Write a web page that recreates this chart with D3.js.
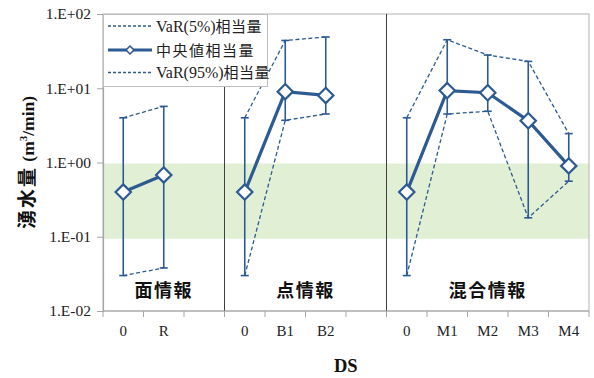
<!DOCTYPE html>
<html>
<head>
<meta charset="utf-8">
<script src="https://cdn.jsdelivr.net/npm/d3@7"></script>
<style>
  html, body { margin: 0; padding: 0; background: #fff; }
  svg { display: block; }
</style>
</head>
<body>
<svg id="chart" width="594" height="378"></svg>
<script>
// Category slots along the x axis (spacer slots sit between groups)
const slots = ["g1-0", "g1-R", "g1-sp", "g2-0", "g2-B1", "g2-B2", "g2-sp", "g3-0", "g3-M1", "g3-M2", "g3-M3", "g3-M4"];
const slotLabels = ["0", "R", "", "0", "B1", "B2", "", "0", "M1", "M2", "M3", "M4"];

// Groups of data sets
const groupNames = ["面情報", "点情報", "混合情報"];
const groupSlots = [
  ["g1-0", "g1-R"],
  ["g2-0", "g2-B1", "g2-B2"],
  ["g3-0", "g3-M1", "g3-M2", "g3-M3", "g3-M4"]
];

// Inflow (m3/min) per group, in slot order
const medianValues = [[0.40, 0.68], [0.40, 9.0, 8.0], [0.40, 9.3, 8.7, 3.65, 0.90]];
const var5Values   = [[4.0, 5.7], [4.0, 44, 49], [4.0, 45, 28, 23, 2.45]];
const var95Values  = [[0.03, 0.038], [0.03, 3.7, 4.5], [0.03, 4.5, 4.9, 0.18, 0.56]];

const yTicks = [1e-2, 1e-1, 1e0, 1e1, 1e2];
const yTickLabels = ["1.E-02", "1.E-01", "1.E+00", "1.E+01", "1.E+02"];
const bandRange = [0.1, 1.0];

const legendLabels = ["VaR(5%)相当量", "中央値相当量", "VaR(95%)相当量"];

const blue = "#2D5A92";
const serif = "'Liberation Serif', 'DejaVu Serif', serif";
const gothic = "'Noto Sans CJK JP', 'Noto Sans', sans-serif";

const svg = d3.select("#chart");
const margin = { left: 103, right: 5, top: 14, bottom: 67 };
const W = 594, H = 378;
const plotW = W - margin.left - margin.right;
const plotH = H - margin.top - margin.bottom;

const g = svg.append("g").attr("transform", `translate(${margin.left},${margin.top})`);

const x = d3.scaleBand().domain(slots).range([0, plotW]).padding(0);
const y = d3.scaleLog().domain([1e-2, 1e2]).range([plotH, 0]);
const cx = s => x(s) + x.bandwidth() / 2;

// Green reference band
g.append("rect")
  .attr("x", 0).attr("width", plotW)
  .attr("y", y(bandRange[1]) + 1)
  .attr("height", y(bandRange[0]) - y(bandRange[1]) + 1)
  .attr("fill", "#E1EFD5");

// Plot frame
g.append("rect")
  .attr("x", 0).attr("y", 0).attr("width", plotW).attr("height", plotH)
  .attr("fill", "none").attr("stroke", "#BFBFBF").attr("stroke-width", 1.2);

// Group separators
const sepSlots = ["g2-0", "g3-0"];
g.selectAll("line.sep").data(sepSlots).join("line")
  .attr("class", "sep")
  .attr("x1", d => x(d)).attr("x2", d => x(d))
  .attr("y1", 0).attr("y2", plotH)
  .attr("stroke", "#404040").attr("stroke-width", 1);

// Y axis
const yAxis = d3.axisLeft(y).tickValues(yTicks)
  .tickFormat((d, i) => yTickLabels[i]).tickSize(6).tickPadding(6);
const ya = g.append("g").call(yAxis);
ya.select(".domain").attr("stroke", "#A6A6A6").attr("stroke-width", 1.2);
ya.selectAll(".tick line").attr("stroke", "#A6A6A6");
ya.selectAll("text").attr("font-family", serif).attr("font-size", 15.5).attr("fill", "#222");

// X axis with ticks on slot boundaries
const xa = g.append("g").attr("transform", `translate(0,${plotH})`);
xa.append("line").attr("x1", 0).attr("x2", plotW).attr("stroke", "#A6A6A6").attr("stroke-width", 1.2);
const bounds = slots.map(s => x(s)).concat([plotW]);
xa.selectAll("line.tk").data(bounds).join("line")
  .attr("class", "tk")
  .attr("x1", d => d).attr("x2", d => d).attr("y1", 0).attr("y2", 6)
  .attr("stroke", "#A6A6A6");
xa.selectAll("text").data(slots).join("text")
  .attr("x", d => cx(d)).attr("y", 25)
  .attr("text-anchor", "middle")
  .attr("font-family", serif).attr("font-size", 15).attr("fill", "#222")
  .text((d, i) => slotLabels[i]);

// Axis titles
svg.append("text")
  .attr("x", margin.left + x("g2-B2") + x.bandwidth() / 2 + 20)
  .attr("y", 372)
  .attr("text-anchor", "middle")
  .attr("font-family", serif).attr("font-weight", "bold").attr("font-size", 18.5)
  .attr("fill", "#111")
  .text("DS");

const yt = svg.append("text")
  .attr("transform", `translate(34,${margin.top + plotH / 2}) rotate(-90)`)
  .attr("text-anchor", "middle")
  .attr("font-weight", "bold").attr("fill", "#111");
yt.append("tspan").attr("font-family", gothic).attr("font-size", 19).attr("letter-spacing", 2).text("湧水量");
yt.append("tspan").attr("font-family", serif).attr("font-size", 17.5).text(" (m");
yt.append("tspan").attr("font-family", serif).attr("font-size", 11).attr("dy", -7).text("3");
yt.append("tspan").attr("font-family", serif).attr("font-size", 17.5).attr("dy", 7).text("/min)");

// Group name labels, centred in each group's span
g.selectAll("text.grp").data(groupNames).join("text")
  .attr("class", "grp")
  .attr("x", (d, i) => {
    const start = x(groupSlots[i][0]);
    const end = i < 2 ? x(groupSlots[i + 1][0]) : plotW;
    return (start + end) / 2;
  })
  .attr("y", plotH - 14)
  .attr("text-anchor", "middle")
  .attr("font-family", gothic).attr("font-weight", "bold").attr("font-size", 18)
  .attr("letter-spacing", 1.5).attr("fill", "#111")
  .text(d => d);

// Series per group
const line = d3.line().x(d => cx(d.s)).y(d => y(d.v));
groupSlots.forEach((gs, gi) => {
  const med = gs.map((s, i) => ({ s, v: medianValues[gi][i] }));
  const up = gs.map((s, i) => ({ s, v: var5Values[gi][i] }));
  const lo = gs.map((s, i) => ({ s, v: var95Values[gi][i] }));
  const grp = g.append("g");

  // Dashed VaR envelopes
  [up, lo].forEach(d => {
    grp.append("path").datum(d).attr("d", line)
      .attr("fill", "none").attr("stroke", blue).attr("stroke-width", 1.3)
      .attr("stroke-dasharray", "4,2.5");
  });

  // Error bars between VaR(95%) and VaR(5%)
  gs.forEach((s, i) => {
    const xx = cx(s);
    grp.append("line")
      .attr("x1", xx).attr("x2", xx)
      .attr("y1", y(lo[i].v)).attr("y2", y(up[i].v))
      .attr("stroke", blue).attr("stroke-width", 1.6);
    [lo[i].v, up[i].v].forEach(v => {
      grp.append("line")
        .attr("x1", xx - 4).attr("x2", xx + 4)
        .attr("y1", y(v)).attr("y2", y(v))
        .attr("stroke", blue).attr("stroke-width", 1.6);
    });
  });

  // Median line and diamond markers
  grp.append("path").datum(med).attr("d", line)
    .attr("fill", "none").attr("stroke", blue).attr("stroke-width", 3.2);
  grp.selectAll("path.mk").data(med).join("path")
    .attr("class", "mk")
    .attr("d", d3.symbol().type(d3.symbolDiamond2).size(150))
    .attr("transform", d => `translate(${cx(d.s)},${y(d.v)})`)
    .attr("fill", "#fff").attr("stroke", blue).attr("stroke-width", 2.2);
});

// Legend
const lg = g.append("g");
lg.append("rect")
  .attr("x", 0.5).attr("y", 0.5).attr("width", 164).attr("height", 72)
  .attr("fill", "#fff").attr("stroke", "#BFBFBF").attr("stroke-width", 1);
const rowsY = [12, 36, 58.5];
legendLabels.forEach((lab, i) => {
  const yy = rowsY[i];
  const l = lg.append("line").attr("x1", 5).attr("x2", 49).attr("y1", yy).attr("y2", yy)
    .attr("stroke", blue);
  if (i === 1) {
    l.attr("stroke-width", 3.2);
    lg.append("path").attr("d", d3.symbol().type(d3.symbolDiamond2).size(40))
      .attr("transform", `translate(27,${yy})`)
      .attr("fill", "#fff").attr("stroke", blue).attr("stroke-width", 1.6);
  } else {
    l.attr("stroke-width", 1.3).attr("stroke-dasharray", "3,2");
  }
  const t = lg.append("text").attr("x", 53).attr("y", yy + 5.5)
    .attr("fill", "#222");
  const m = lab.match(/^(VaR\(\d+%\))(.*)$/);
  if (m) {
    t.append("tspan").attr("font-family", serif).attr("font-size", 16).text(m[1]);
    t.append("tspan").attr("font-family", gothic).attr("font-size", 15).attr("letter-spacing", 0.5).text(m[2]);
  } else {
    t.append("tspan").attr("font-family", gothic).attr("font-size", 15).attr("letter-spacing", 1.5).text(lab);
  }
});
</script>
</body>
</html>
